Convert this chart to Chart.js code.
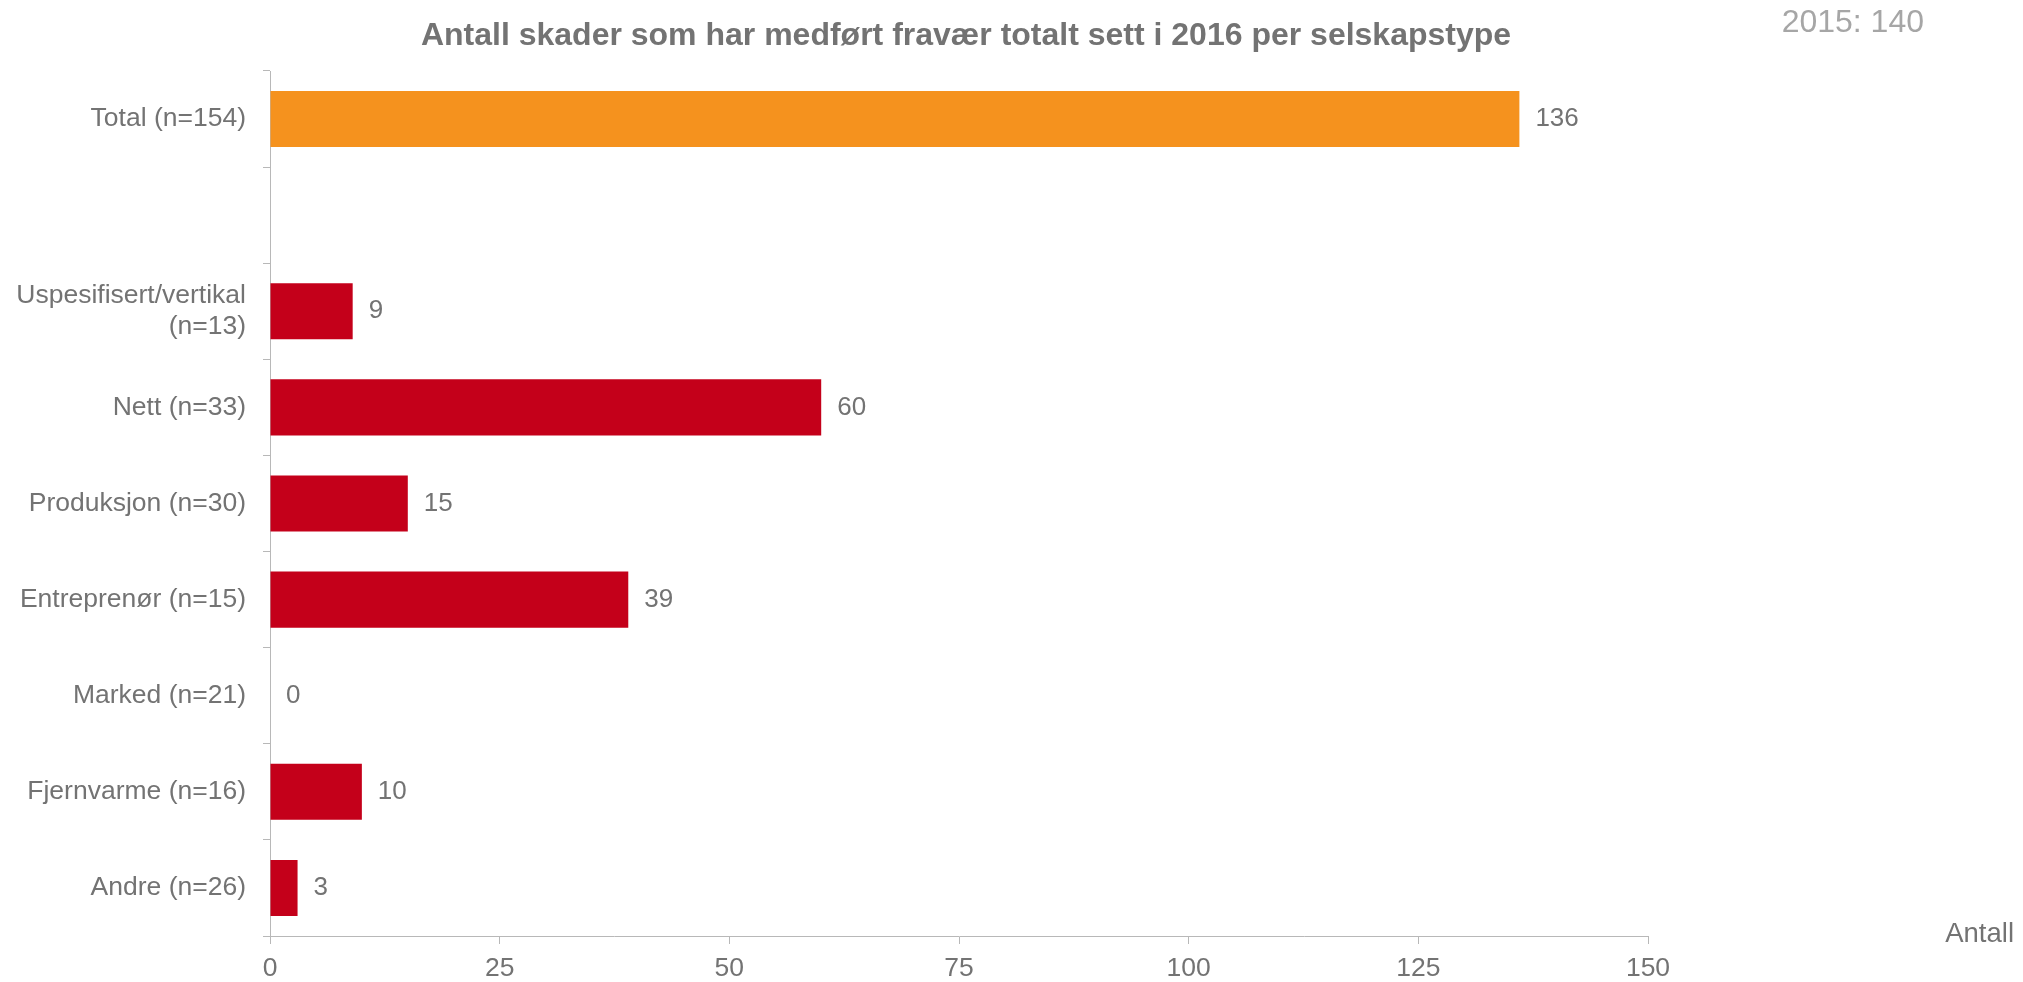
<!DOCTYPE html>
<html>
<head>
<meta charset="utf-8">
<title>Antall skader som har medført fravær</title>
<script src="https://cdn.jsdelivr.net/npm/chart.js@4/dist/chart.umd.min.js"></script>
<style>
  html, body { margin: 0; padding: 0; background: #ffffff; }
  canvas { display: block; }
</style>
</head>
<body>
<canvas id="chart" width="2023" height="982"></canvas>
<script>
// Chart data
const categories = [
    'Total (n=154)',
    '',
    ['Uspesifisert/vertikal', '(n=13)'],
    'Nett (n=33)',
    'Produksjon (n=30)',
    'Entreprenør (n=15)',
    'Marked (n=21)',
    'Fjernvarme (n=16)',
    'Andre (n=26)'
];
const values = [136, null, 9, 60, 15, 39, 0, 10, 3];
const xTicks = [0, 25, 50, 75, 100, 125, 150];

const titleText = 'Antall skader som har medført fravær totalt sett i 2016 per selskapstype';
const noteText = '2015: 140';
const axisText = 'Antall';

const FONT = '"Liberation Sans", Arial, sans-serif';
const TEXT_GREY = '#737373';
const LINE_GREY = '#b8b8b8';

// Orange for the total, red for the company types
const barColors = values.map((v, i) => i === 0 ? '#f5921e' : '#c4001a');

// Draws value labels, title and the loose texts
const textPlugin = {
    id: 'texts',
    afterDatasetsDraw(chart) {
        const ctx = chart.ctx;
        const meta = chart.getDatasetMeta(0);
        ctx.save();
        ctx.font = `26px ${FONT}`;
        ctx.fillStyle = TEXT_GREY;
        ctx.textAlign = 'left';
        ctx.textBaseline = 'middle';
        meta.data.forEach((bar, i) => {
            if (values[i] === null) return;
            ctx.fillText(String(values[i]), bar.x + 16, bar.y);
        });

        const area = chart.chartArea;
        ctx.font = `bold 32px ${FONT}`;
        ctx.textAlign = 'center';
        ctx.textBaseline = 'alphabetic';
        ctx.fillText(titleText, (area.left + area.right) / 2 + 7, 45);

        ctx.font = `32px ${FONT}`;
        ctx.fillStyle = '#a6a6a6';
        ctx.textAlign = 'right';
        ctx.fillText(noteText, 1924, 32);

        ctx.font = `27.5px ${FONT}`;
        ctx.fillStyle = TEXT_GREY;
        ctx.fillText(axisText, 2014, 942);
        ctx.restore();
    }
};

new Chart(document.getElementById('chart'), {
    type: 'bar',
    data: {
        labels: categories,
        datasets: [{
            data: values,
            backgroundColor: barColors,
            borderWidth: 0,
            categoryPercentage: 1,
            barPercentage: 0.583
        }]
    },
    options: {
        indexAxis: 'y',
        responsive: false,
        animation: false,
        devicePixelRatio: 1,
        layout: {
            padding: { top: 71, right: 375, bottom: 0, left: 0 }
        },
        plugins: {
            legend: { display: false },
            title: { display: false },
            tooltip: { enabled: false }
        },
        scales: {
            x: {
                min: 0,
                max: 150,
                afterBuildTicks: (scale) => {
                    scale.ticks = xTicks.map(v => ({ value: v }));
                },
                afterFit: (scale) => { scale.height = 46; },
                grid: {
                    drawOnChartArea: false,
                    drawTicks: true,
                    tickLength: 8,
                    color: LINE_GREY
                },
                border: { color: LINE_GREY, width: 1 },
                ticks: {
                    padding: 9,
                    color: TEXT_GREY,
                    font: { family: FONT, size: 26.5 }
                }
            },
            y: {
                afterFit: (scale) => { scale.width = 270; },
                grid: {
                    offset: true,
                    drawOnChartArea: false,
                    drawTicks: true,
                    tickLength: 7,
                    color: LINE_GREY
                },
                border: { color: LINE_GREY, width: 1 },
                ticks: {
                    padding: 17,
                    color: TEXT_GREY,
                    font: { family: FONT, size: 26.5, lineHeight: 1.2 }
                }
            }
        }
    },
    plugins: [textPlugin]
});
</script>
</body>
</html>
